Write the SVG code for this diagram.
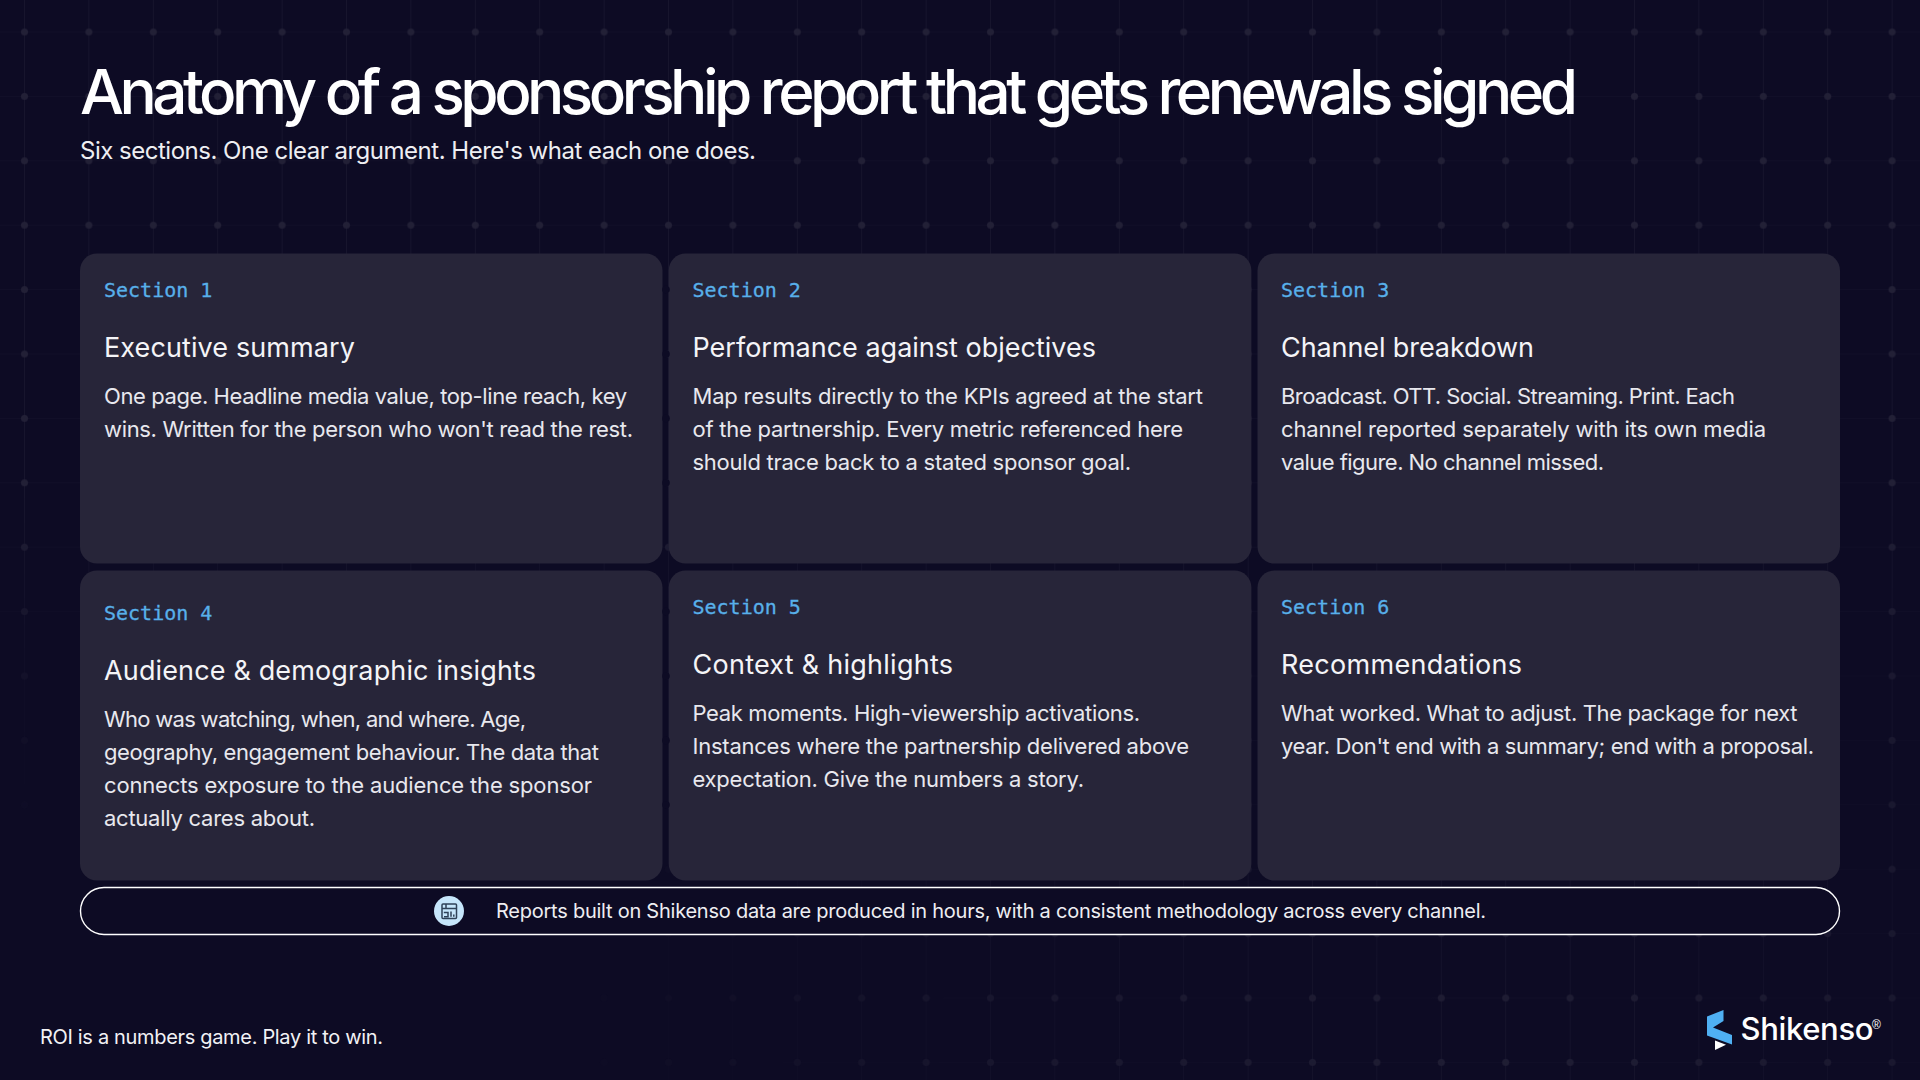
<svg xmlns="http://www.w3.org/2000/svg" width="1920" height="1080" viewBox="0 0 1920 1080">
<style>
text{font-family:"Inter","Liberation Sans",sans-serif}
.card{fill:#272539}
.lab{font-family:"DejaVu Sans Mono","Liberation Mono",monospace;font-size:20px;fill:#58b0ea;stroke:#58b0ea;stroke-width:.3px}
.hd{font-size:27px;fill:#f4f4f7}
.bd{font-size:22px;fill:#e8e8ee}
.nt{fill:#0d0b24}
</style>
<defs>
<pattern id="grid" width="64.4" height="64.4" patternUnits="userSpaceOnUse" x="-7.7" y="-0.2">
<path d="M32.2 0V64.4" stroke="#fff" stroke-opacity=".045" stroke-width="1" fill="none"/>
<path d="M0 32.2H64.4" stroke="#fff" stroke-opacity=".025" stroke-width="1" fill="none"/>
<circle cx="32.2" cy="32.2" r="3.5" fill="#222036"/>
</pattern>
<linearGradient id="fadeTop" x1="0" y1="0" x2="0" y2="1">
<stop offset="0" stop-color="#fff"/><stop offset=".45" stop-color="#fff"/><stop offset=".62" stop-color="#555"/><stop offset=".8" stop-color="#000"/>
</linearGradient>
<radialGradient id="fadeBr" gradientUnits="userSpaceOnUse" cx="1500" cy="1070" r="950">
<stop offset="0" stop-color="#fff" stop-opacity=".9"/><stop offset=".55" stop-color="#fff" stop-opacity=".55"/><stop offset="1" stop-color="#fff" stop-opacity="0"/>
</radialGradient>
<mask id="gm" maskUnits="userSpaceOnUse" x="0" y="0" width="1920" height="1080">
<rect width="1920" height="1080" fill="url(#fadeTop)"/>
<rect width="1920" height="1080" fill="url(#fadeBr)"/>
</mask>
</defs>
<rect width="1920" height="1080" fill="#0d0b24"/>
<rect width="1920" height="1080" fill="url(#grid)" mask="url(#gm)"/>
<g id="header">
<text x="80" y="114" font-size="62" font-weight="500" fill="#fff" textLength="1498">Anatomy of a sponsorship report that gets renewals signed</text>
<text x="80" y="159" font-size="24" fill="#eeeef2" textLength="676">Six sections. One clear argument. Here's what each one does.</text>
</g>
<g id="section-1">
<rect class="card" x="80" y="253.5" width="582.5" height="310" rx="17"/>
<text class="lab" x="104" y="297">Section 1</text>
<text class="hd" x="104" y="357" textLength="251">Executive summary</text>
<text class="bd" x="104" y="404" textLength="523">One page. Headline media value, top-line reach, key</text>
<text class="bd" x="104" y="437" textLength="529">wins. Written for the person who won't read the rest.</text>
</g>
<g id="section-2">
<rect class="card" x="668.7" y="253.5" width="582.7" height="310" rx="17"/>
<text class="lab" x="692.5" y="297">Section 2</text>
<text class="hd" x="692.5" y="357" textLength="403.5">Performance against objectives</text>
<text class="bd" x="692.5" y="404" textLength="510.5">Map results directly to the KPIs agreed at the start</text>
<text class="bd" x="692.5" y="437" textLength="490.5">of the partnership. Every metric referenced here</text>
<text class="bd" x="692.5" y="470" textLength="438.5">should trace back to a stated sponsor goal.</text>
</g>
<g id="section-3">
<rect class="card" x="1257.5" y="253.5" width="582.5" height="310" rx="17"/>
<text class="lab" x="1281" y="297">Section 3</text>
<text class="hd" x="1281" y="357" textLength="253">Channel breakdown</text>
<text class="bd" x="1281" y="404" textLength="454">Broadcast. OTT. Social. Streaming. Print. Each</text>
<text class="bd" x="1281" y="437" textLength="485">channel reported separately with its own media</text>
<text class="bd" x="1281" y="470" textLength="323">value figure. No channel missed.</text>
</g>
<g id="section-4">
<rect class="card" x="80" y="570.5" width="582.5" height="310" rx="17"/>
<text class="lab" x="104" y="620">Section 4</text>
<text class="hd" x="104" y="680" textLength="432">Audience &amp; demographic insights</text>
<text class="bd" x="104" y="727" textLength="422">Who was watching, when, and where. Age,</text>
<text class="bd" x="104" y="760" textLength="495">geography, engagement behaviour. The data that</text>
<text class="bd" x="104" y="793" textLength="488">connects exposure to the audience the sponsor</text>
<text class="bd" x="104" y="826" textLength="211">actually cares about.</text>
</g>
<g id="section-5">
<rect class="card" x="668.7" y="570.5" width="582.7" height="310" rx="17"/>
<text class="lab" x="692.5" y="614">Section 5</text>
<text class="hd" x="692.5" y="674" textLength="260.5">Context &amp; highlights</text>
<text class="bd" x="692.5" y="721" textLength="447.5">Peak moments. High-viewership activations.</text>
<text class="bd" x="692.5" y="754" textLength="496.5">Instances where the partnership delivered above</text>
<text class="bd" x="692.5" y="787" textLength="391.5">expectation. Give the numbers a story.</text>
</g>
<g id="section-6">
<rect class="card" x="1257.5" y="570.5" width="582.5" height="310" rx="17"/>
<text class="lab" x="1281" y="614">Section 6</text>
<text class="hd" x="1281" y="674" textLength="241">Recommendations</text>
<text class="bd" x="1281" y="721" textLength="516.5">What worked. What to adjust. The package for next</text>
<text class="bd" x="1281" y="754" textLength="533">year. Don't end with a summary; end with a proposal.</text>
</g>
<g id="gap-notches">
<circle class="nt" cx="666" cy="289.6" r="3.8"/><circle class="nt" cx="666" cy="354" r="3.8"/><circle class="nt" cx="666" cy="418.4" r="3.8"/><circle class="nt" cx="666" cy="482.8" r="3.8"/><circle class="nt" cx="666" cy="611.6" r="3.8"/><circle class="nt" cx="666" cy="676" r="3.8"/><circle class="nt" cx="666" cy="740.4" r="3.8"/><circle class="nt" cx="666" cy="804.8" r="3.8"/>
</g>
<g id="callout">
<rect x="80.5" y="887.5" width="1759" height="47" rx="23.5" fill="#0d0b24" stroke="#fff" stroke-width="1.4"/>
<circle cx="449" cy="911" r="15" fill="#c6e6fb"/>
<g fill="none" stroke="#2f4258" stroke-width="1.5">
<rect x="442" y="904" width="14.5" height="14.5" rx="1"/>
<path d="M442 908.5H456.5M446 904V908.5M443.8 912.5H448V916.8H444M451 911.5V916.8M453.8 914.5V916.8"/>
</g>
<text x="496" y="918" font-size="20" fill="#eeeef2" textLength="990">Reports built on Shikenso data are produced in hours, with a consistent methodology across every channel.</text>
</g>
<g id="footer">
<text x="40" y="1044" font-size="20" fill="#f2f2f5" textLength="343">ROI is a numbers game. Play it to win.</text>
</g>
<g id="logo">
<path d="M1723.5 1010L1707 1016.5V1035.5L1732 1044.5V1035L1713 1027.5L1723.5 1021Z" fill="#4fb0f3"/>
<path d="M1715 1040.5L1726 1044.8L1715 1050Z" fill="#fff"/>
<text x="1740.5" y="1040" font-size="31" font-weight="500" fill="#fff" textLength="133">Shikenso</text>
<text x="1872" y="1028.5" font-size="12" fill="#fff" style="font-family:'Liberation Sans',sans-serif">®</text>
</g>
</svg>
